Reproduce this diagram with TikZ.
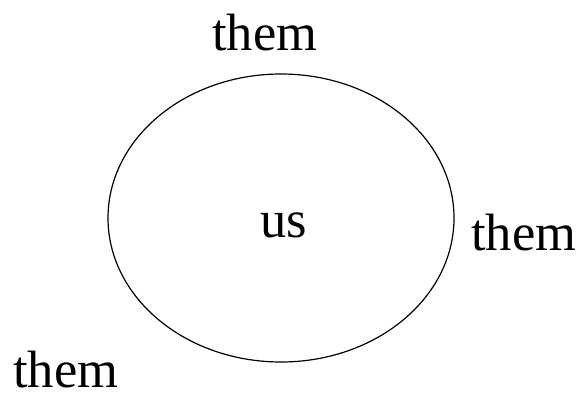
\documentclass[tikz,border=0pt]{standalone}
\usepackage{fontspec}
\setmainfont{Liberation Serif}
\begin{document}
\begin{tikzpicture}[x=1pt,y=-1pt,
  lbl/.style={anchor=base west,inner sep=0pt,text depth=0pt,font=\fontsize{52.5}{60}\selectfont}]
\useasboundingbox (0,0) rectangle (576,392);
\draw[line width=1.2pt] (281,218) ellipse [x radius=173, y radius=144];
\node[lbl] (t1) at (212,50) {them};
\node[lbl] (us) at (260,237) {us};
\node[lbl] (t2) at (471,250) {them};
\node[lbl] (t3) at (13,387) {them};
\end{tikzpicture}
\end{document}
